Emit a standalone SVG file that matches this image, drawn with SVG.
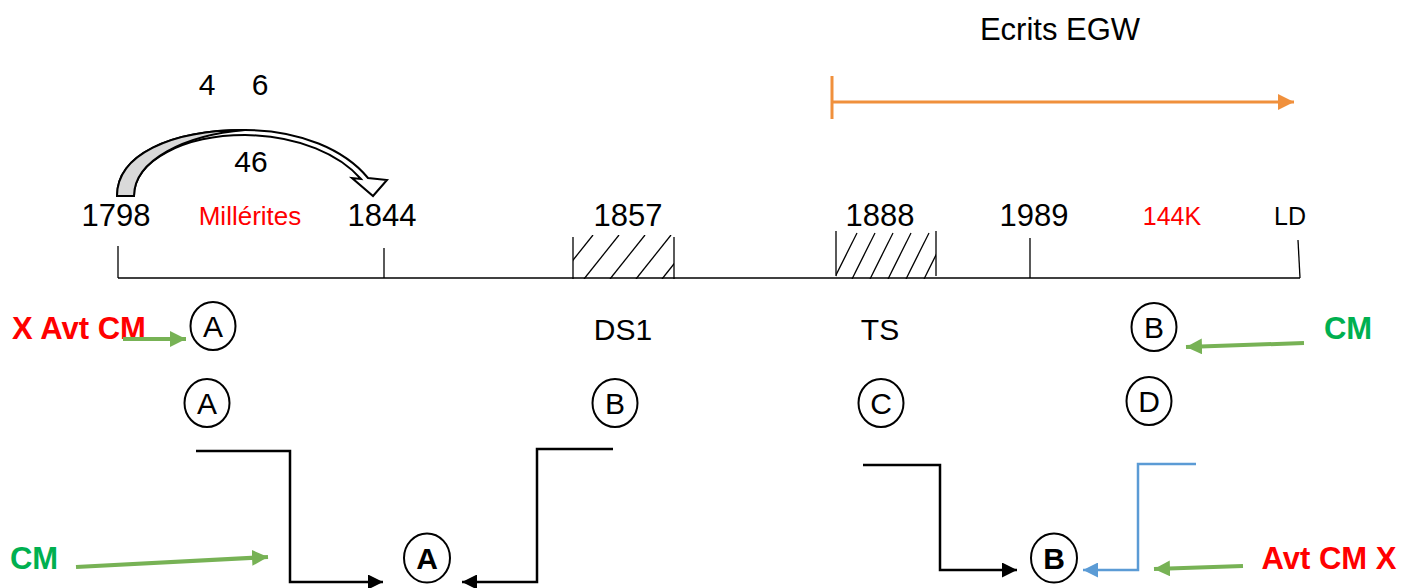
<svg xmlns="http://www.w3.org/2000/svg" width="1403" height="588" viewBox="0 0 1403 588">
<style>
text{font-family:"Liberation Sans",Arial,sans-serif;text-anchor:middle}
.n{font-size:31px;fill:#000}
.lt{font-size:30px;fill:#000}
.red{fill:#FF0000}
.grn{fill:#00B050}
.b{font-weight:bold}
.c{fill:none;stroke:#000;stroke-width:2}
.ln{fill:none;stroke:#000;stroke-width:1.3}
.conn{fill:none;stroke:#000;stroke-width:2.5}
.g{stroke:#77B255;stroke-width:4;fill:none}
</style>
<defs>
<marker id="ah" markerWidth="6" markerHeight="6" refX="6" refY="3" orient="auto" markerUnits="strokeWidth"><path d="M0,0 L6,3 L0,6 Z" fill="#000"/></marker>
<marker id="ahb" markerWidth="6" markerHeight="6" refX="6" refY="3" orient="auto" markerUnits="strokeWidth"><path d="M0,0 L6,3 L0,6 Z" fill="#5B9BD5"/></marker>
<marker id="ahg" markerWidth="4" markerHeight="4" refX="4" refY="2" orient="auto" markerUnits="strokeWidth"><path d="M0,0 L4,2 L0,4 Z" fill="#77B255"/></marker>
<marker id="aho" markerWidth="5.5" markerHeight="5.5" refX="5.5" refY="2.75" orient="auto" markerUnits="strokeWidth"><path d="M0,0 L5.5,2.75 L0,5.5 Z" fill="#F0903C"/></marker>
<clipPath id="cp1"><rect x="573" y="235" width="101" height="44"/></clipPath>
<clipPath id="cp2"><rect x="836" y="231" width="100" height="48"/></clipPath>
</defs>

<g id="egw">
<text x="1060" y="40" style="font-size:31px">Ecrits EGW</text>
<line x1="832" y1="76" x2="832" y2="119" stroke="#F0903C" stroke-width="3"/>
<line x1="832" y1="102" x2="1294" y2="102" stroke="#F0903C" stroke-width="3" marker-end="url(#aho)"/>
</g>

<g id="curved-arrow">
<text x="207" y="95" class="lt">4</text>
<text x="260" y="95" class="lt">6</text>
<text x="251" y="172" class="lt">46</text>
<path d="M117,196 C117,155 170,130 245,130 C300,130 345,150 368,178 L387,180 L373,196 L352,178 L361,179 C340,155 300,136 245,135 C185,135 134,160 134,196 Z" fill="#fff" stroke="#000" stroke-width="2" stroke-linejoin="miter"/>
<path d="M117,196 C117,155 170,130 245,130 C185,135 134,160 134,196 Z" fill="#D9D9D9" stroke="#000" stroke-width="2"/>
</g>

<g id="timeline">
<line x1="118" y1="278" x2="1300" y2="278" class="ln"/>
<line x1="118" y1="246" x2="118" y2="278" class="ln"/>
<line x1="384" y1="248" x2="384" y2="278" class="ln"/>
<line x1="1030" y1="238" x2="1030" y2="278" class="ln"/>
<line x1="1298" y1="240" x2="1300" y2="278" class="ln"/>
<text x="116" y="226" class="n">1798</text>
<text x="250" y="225" class="red" style="font-size:26px">Millérites</text>
<text x="382" y="226" class="n">1844</text>
<text x="628" y="226" class="n">1857</text>
<text x="880" y="226" class="n">1888</text>
<text x="1034" y="226" class="n">1989</text>
<text x="1172" y="225" class="red" style="font-size:25px">144K</text>
<text x="1290" y="225" style="font-size:25px">LD</text>
</g>

<g id="hatch-1857">
<line x1="573" y1="237" x2="573" y2="279" class="ln"/>
<line x1="674" y1="237" x2="674" y2="279" class="ln"/>
<g clip-path="url(#cp1)" class="ln">
<line x1="558" y1="279" x2="593" y2="235"/>
<line x1="584" y1="279" x2="619" y2="235"/>
<line x1="610" y1="279" x2="645" y2="235"/>
<line x1="636" y1="279" x2="671" y2="235"/>
<line x1="662" y1="279" x2="697" y2="235"/>
</g>
</g>

<g id="hatch-1888">
<line x1="836" y1="231" x2="836" y2="276" class="ln"/>
<line x1="936" y1="231" x2="936" y2="276" class="ln"/>
<g clip-path="url(#cp2)" class="ln">
<line x1="834" y1="279" x2="857" y2="233"/>
<line x1="852" y1="279" x2="875" y2="233"/>
<line x1="870" y1="279" x2="893" y2="233"/>
<line x1="888" y1="279" x2="911" y2="233"/>
<line x1="906" y1="279" x2="929" y2="233"/>
<line x1="924" y1="279" x2="947" y2="233"/>
</g>
</g>

<g id="labels">
<text x="623" y="340" class="lt">DS1</text>
<text x="880" y="340" class="lt">TS</text>
</g>

<g id="node-A1"><ellipse cx="213" cy="326" rx="22.5" ry="24" class="c"/><text x="213" y="337" class="lt">A</text></g>
<g id="node-B1"><ellipse cx="1154" cy="327" rx="22.5" ry="24" class="c"/><text x="1154" y="338" class="lt">B</text></g>
<g id="node-A2"><ellipse cx="207" cy="403" rx="22.5" ry="24" class="c"/><text x="207" y="414" class="lt">A</text></g>
<g id="node-B2"><ellipse cx="615" cy="403" rx="22.5" ry="24" class="c"/><text x="615" y="414" class="lt">B</text></g>
<g id="node-C2"><ellipse cx="881" cy="403" rx="22.5" ry="24" class="c"/><text x="881" y="414" class="lt">C</text></g>
<g id="node-D2"><ellipse cx="1149" cy="401" rx="22.5" ry="24" class="c"/><text x="1149" y="412" class="lt">D</text></g>
<g id="node-A3"><ellipse cx="427" cy="558" rx="23" ry="24.5" class="c"/><text x="427" y="569" class="lt b">A</text></g>
<g id="node-B3"><ellipse cx="1054" cy="558" rx="23" ry="24.5" class="c"/><text x="1054" y="569" class="lt b">B</text></g>

<g id="tags">
<text x="79" y="339" class="red b" style="font-size:31px">X Avt CM</text>
<text x="1348" y="339" class="grn b" style="font-size:31px">CM</text>
<text x="34" y="569" class="grn b" style="font-size:31px">CM</text>
<text x="1329" y="569" class="red b" style="font-size:31px">Avt CM X</text>
</g>

<g id="connectors">
<path d="M196,451 H290 V582 H383" class="conn" marker-end="url(#ah)"/>
<path d="M613,449 H537 V582 H462" class="conn" marker-end="url(#ah)"/>
<path d="M863,465 H940 V570 H1017" class="conn" marker-end="url(#ah)"/>
<path d="M1196,464 H1138 V570 H1083" fill="none" stroke="#5B9BD5" stroke-width="2.5" marker-end="url(#ahb)"/>
<line x1="123" y1="339" x2="186" y2="339" class="g" marker-end="url(#ahg)"/>
<line x1="1304" y1="343" x2="1186" y2="347" class="g" marker-end="url(#ahg)"/>
<line x1="76" y1="567" x2="268" y2="557" class="g" marker-end="url(#ahg)"/>
<line x1="1243" y1="566" x2="1154" y2="569" class="g" marker-end="url(#ahg)"/>
</g>
</svg>
